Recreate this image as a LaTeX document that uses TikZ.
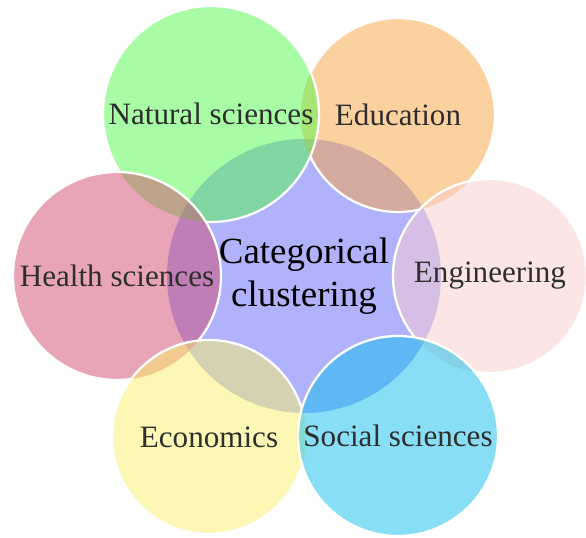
\documentclass[tikz,border=0pt]{standalone}
\usepackage{fontspec}
\setmainfont{Liberation Serif}

\definecolor{catc}{rgb}{0.38,0.40,0.98}
\definecolor{natc}{rgb}{0.32,0.98,0.30}
\definecolor{educ}{rgb}{0.98,0.64,0.26}
\definecolor{engc}{rgb}{0.98,0.80,0.80}
\definecolor{socc}{rgb}{0.06,0.74,0.92}
\definecolor{ecoc}{rgb}{0.98,0.94,0.42}
\definecolor{heac}{rgb}{0.82,0.30,0.44}
\definecolor{labelc}{rgb}{0.18,0.18,0.18}

\tikzset{
    bubble/.style={circle, inner sep=0pt, fill opacity=0.5, text opacity=1,
        text=labelc, font=\fontsize{17.7}{20}\selectfont},
    rim/.style={white, line width=1.3pt},
    outerbox/.style={insert path={(-100,-100) -- (-100,700) -- (700,700) -- (700,-100) -- cycle}}
}

\begin{document}
\begin{tikzpicture}[x=0.2mm, y=0.2mm]
    \useasboundingbox (0,0) rectangle (586,538);

    \node[bubble, fill=catc, minimum size=54.8mm, text=black, align=center,
        font=\fontsize{21}{24.5}\selectfont] (cat) at (304,262) {Categorical\\clustering};

    % 外面的六个圆
    \node[bubble, fill=educ, minimum size=38.8mm] (edu) at (398,423) {Education};
    \node[bubble, fill=engc, minimum size=38.8mm] (eng) at (490,262) {Engineering};
    \node[bubble, fill=natc, minimum size=43.2mm] (nat) at (211,424) {Natural sciences};
    \node[bubble, fill=heac, minimum size=41.6mm] (hea) at (117,262) {Health sciences};
    \node[bubble, fill=ecoc, minimum size=38.8mm] (eco) at (209,101) {Economics};
    \node[bubble, fill=socc, minimum size=40mm] (soc) at (398,102) {Social sciences};

    % 白色边框, 被后面的圆盖住的部分不画
    \begin{scope}
        \clip[outerbox] (nat.center) circle[radius=108];
        \clip[outerbox] (eng.center) circle[radius=97];
        \draw[rim] (edu.center) circle[radius=97];
    \end{scope}
    \begin{scope}
        \clip[outerbox] (soc.center) circle[radius=100];
        \draw[rim] (eng.center) circle[radius=97];
    \end{scope}
    \begin{scope}
        \clip[outerbox] (hea.center) circle[radius=104];
        \draw[rim] (nat.center) circle[radius=108];
    \end{scope}
    \begin{scope}
        \clip[outerbox] (eco.center) circle[radius=97];
        \draw[rim] (hea.center) circle[radius=104];
    \end{scope}
    \begin{scope}
        \clip[outerbox] (soc.center) circle[radius=100];
        \draw[rim] (eco.center) circle[radius=97];
    \end{scope}
    \draw[rim] (soc.center) circle[radius=100];
\end{tikzpicture}
\end{document}
